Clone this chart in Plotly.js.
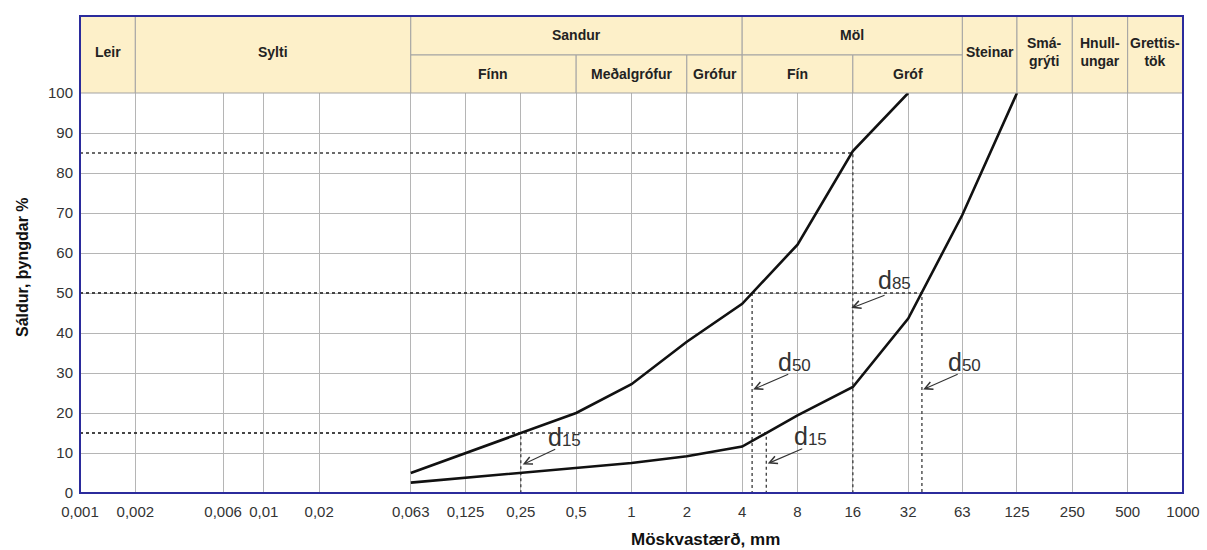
<!DOCTYPE html>
<html>
<head>
<meta charset="utf-8">
<script src="https://cdn.plot.ly/plotly-3.0.1.min.js"></script>
<style>html,body{margin:0;padding:0;background:#fff;}#chart{width:1207px;height:550px;}</style>
</head>
<body>
<div id="chart"></div>
<script>
// ---- data ----
const sieveSizes = [0.063, 0.125, 0.25, 0.5, 1, 2, 4, 8, 16, 32, 63, 125];
const curveFine = [5, 10, 15, 20, 27.2, 37.8, 47.3, 62.1, 85.5, 100];
const curveCoarse = [2.6, 3.8, 5, 6.2, 7.5, 9.2, 11.6, 19.4, 26.5, 43.6, 69.5, 100];

const tickValues = [0.001, 0.002, 0.006, 0.01, 0.02, 0.063, 0.125, 0.25, 0.5, 1, 2, 4, 8, 16, 32, 63, 125, 250, 500, 1000];
const tickLabels = ['0,001', '0,002', '0,006', '0,01', '0,02', '0,063', '0,125', '0,25', '0,5', '1', '2', '4', '8', '16', '32', '63', '125', '250', '500', '1000'];
const yTicks = [0, 10, 20, 30, 40, 50, 60, 70, 80, 90, 100];

// characteristic diameters (d15, d50, d85)
const dLevels = [15, 15, 50, 50, 85];
const dSizes = [0.25, 5.41, 4.53, 38, 16];
const dNames = ['15', '15', '50', '50', '85'];

// header classification
const fullCells = ['Leir', 'Sylti', 'Steinar', 'Smá-<br>grýti', 'Hnull-<br>ungar', 'Grettis-<br>tök'];
const fullFrom = [0.001, 0.002, 63, 125, 250, 500];
const fullTo = [0.002, 0.063, 125, 250, 500, 1000];
const topCells = ['Sandur', 'Möl'];
const topFrom = [0.063, 4];
const topTo = [4, 63];
const subCells = ['Fínn', 'Meðalgrófur', 'Grófur', 'Fín', 'Gróf'];
const subFrom = [0.063, 0.5, 2, 4, 16];
const subTo = [0.5, 2, 4, 16, 63];

// ---- layout helpers ----
const xMin = 0.001;
const hdrBottom = 400 / 477, hdrSplit = (493 - 55) / 477;
const labelX = [0.343, 7.49, 6.13, 51.1, 21.4];
const labelY = [10.0, 10.2, 28.7, 28.7, 49.2];
const arrowX = [0.256, 5.51, 4.59, 38.6, 15.7];
const arrowY = [7.1, 7.35, 25.9, 25.9, 46.25];
const arrowAX = [34, 36, 36.6, 36, 34.7];
const arrowAY = [-16, -15.6, -15.7, -15.7, -13.4];

const traces = [];
// dotted guide lines
const gx = [], gy = [];
dLevels.forEach((lv, i) => {
  gx.push(xMin, dSizes[i], dSizes[i], null);
  gy.push(lv, lv, 0, null);
});
traces.push({x: gx, y: gy, mode: 'lines', line: {color: '#3a3a3a', width: 1.3, dash: 'dot'}, hoverinfo: 'skip', showlegend: false});
traces.push({x: sieveSizes.slice(0, curveFine.length), y: curveFine, mode: 'lines', line: {color: '#111', width: 2.6}, showlegend: false});
traces.push({x: sieveSizes, y: curveCoarse, mode: 'lines', line: {color: '#111', width: 2.6}, showlegend: false});

const shapes = [];
const annotations = [];
const hdrFill = '#FDF0C9', hdrLine = '#a3a3a3';
const hfont = {family: 'Liberation Sans, Arial, sans-serif', size: 14, color: '#222'};
const gm = (a, b) => Math.log10(Math.sqrt(a * b));
function cell(x0, x1, y0, y1) {
  shapes.push({type: 'rect', xref: 'x', yref: 'paper', x0: x0, x1: x1, y0: y0, y1: y1,
    fillcolor: hdrFill, line: {color: hdrLine, width: 1}, layer: 'above'});
}
function htext(t, x0, x1, yc) {
  annotations.push({text: '<b>' + t + '</b>', xref: 'x', yref: 'paper', x: gm(x0, x1), y: yc,
    showarrow: false, font: hfont, xanchor: 'center', yanchor: 'middle'});
}
fullCells.forEach((t, i) => { cell(fullFrom[i], fullTo[i], hdrBottom, 1); htext(t, fullFrom[i], fullTo[i], (493 - 52) / 477); });
topCells.forEach((t, i) => { cell(topFrom[i], topTo[i], hdrSplit, 1); htext(t, topFrom[i], topTo[i], (493 - 35) / 477); });
subCells.forEach((t, i) => { cell(subFrom[i], subTo[i], hdrBottom, hdrSplit); htext(t, subFrom[i], subTo[i], (493 - 74) / 477); });
// outer frame
shapes.push({type: 'rect', xref: 'paper', yref: 'paper', x0: 0, x1: 1, y0: 0, y1: 1,
  line: {color: '#2b2b9c', width: 2}, layer: 'above'});

// d labels and arrows
dNames.forEach((n, i) => {
  annotations.push({text: 'd<span style="font-size:17px">' + n + '</span>', xref: 'x', yref: 'y',
    x: Math.log10(labelX[i]), y: labelY[i], xanchor: 'left', yanchor: 'bottom', showarrow: false,
    font: {family: 'Liberation Sans, Arial, sans-serif', size: 25, color: '#333'}});
  annotations.push({text: '', xref: 'x', yref: 'y', x: Math.log10(arrowX[i]), y: arrowY[i],
    ax: arrowAX[i], ay: arrowAY[i], showarrow: true, arrowhead: 5, arrowsize: 1.4, arrowwidth: 1.1,
    arrowcolor: '#333', standoff: 0});
});
// axis titles
annotations.push({text: '<b>Sáldur, þyngdar %</b>', xref: 'paper', yref: 'paper', x: (22 - 80) / 1103, y: (493 - 267) / 477,
  textangle: -90, showarrow: false, xanchor: 'center', yanchor: 'middle',
  font: {family: 'Liberation Sans, Arial, sans-serif', size: 16, color: '#111'}});
annotations.push({text: '<b>Möskvastærð, mm</b>', xref: 'paper', yref: 'paper', x: (705 - 80) / 1103, y: (493 - 539) / 477,
  showarrow: false, xanchor: 'center', yanchor: 'middle',
  font: {family: 'Liberation Sans, Arial, sans-serif', size: 17, color: '#111'}});

const tickFont = {family: 'Liberation Sans, Arial, sans-serif', size: 15, color: '#333'};
const layout = {
  width: 1207, height: 550,
  margin: {l: 80, r: 24, t: 16, b: 57},
  paper_bgcolor: '#fff', plot_bgcolor: '#fff',
  showlegend: false,
  xaxis: {type: 'log', range: [-3, 3], tickmode: 'array', tickvals: tickValues, ticktext: tickLabels,
    showgrid: true, gridcolor: '#b5b5b5', gridwidth: 1, zeroline: false, showline: false, ticks: '',
    tickfont: tickFont, ticklabelstandoff: 8, fixedrange: true},
  yaxis: {range: [0, 100], domain: [0, hdrBottom], tickmode: 'array', tickvals: yTicks,
    showgrid: true, gridcolor: '#b5b5b5', gridwidth: 1, zeroline: false, showline: false, ticks: '',
    tickfont: tickFont, ticklabelstandoff: 6, fixedrange: true},
  shapes: shapes,
  annotations: annotations
};
Plotly.newPlot('chart', traces, layout, {displayModeBar: false, staticPlot: true});
</script>
</body>
</html>
